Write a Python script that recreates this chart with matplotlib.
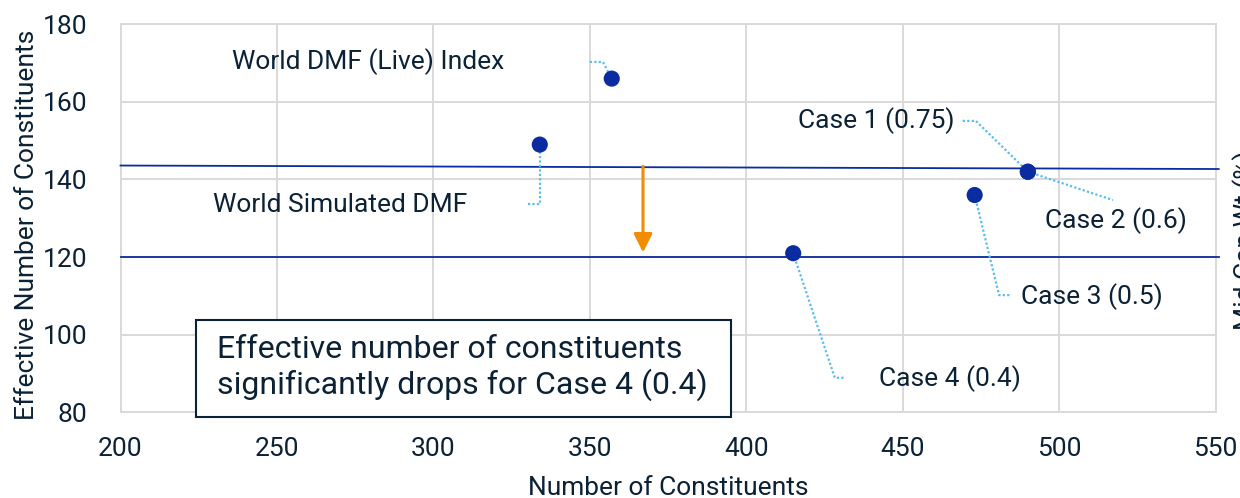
import matplotlib

matplotlib.use("Agg")
import matplotlib.pyplot as plt
from matplotlib.patches import Rectangle

plt.rcParams["font.family"] = ["Roboto", "DejaVu Sans"]

# data
labels = ["World DMF (Live) Index", "World Simulated DMF", "Case 1 (0.75)",
          "Case 2 (0.6)", "Case 3 (0.5)", "Case 4 (0.4)"]
n_constituents = [357, 334, 490, 490, 473, 415]
eff_constituents = [166, 149, 142, 142, 136, 121]

# reference lines (left / right level)
upper_line = [143.6, 142.7]
lower_line = [120.0, 120.0]
line_x = [200, 551]
arrow_x = 367

# label layout: text anchor, alignment, leader elbow points (data coords)
label_pos = [(322.6, 170.3), (310.7, 133.4), (466.7, 155.1),
             (495.5, 129.3), (487.8, 109.7), (442.4, 88.6)]
label_ha = ["right", "right", "right", "left", "left", "left"]
leader_pts = [
    [(350.0, 170.3), (354.2, 170.3)],
    [(330.2, 133.7), (334.0, 133.7)],
    [(469.2, 155.1), (473.4, 155.1)],
    [(517.2, 134.7)],
    [(480.8, 110.2), (484.6, 110.2)],
    [(428.3, 88.9), (431.5, 88.9)],
]

TEXT = "#0b2136"
GRID = "#d9d9d9"
NAVY = "#0a2ca0"
LEADER = "#5bbcf0"
ORANGE = "#f28c00"

fig = plt.figure(figsize=(12.4, 4.98), dpi=100)
ax = fig.add_axes([0.0972, 0.1721, 0.8831, 0.7791])

ax.set_xlim(200, 550)
ax.set_ylim(80, 180)
ax.set_xticks(range(200, 551, 50))
ax.set_yticks(range(80, 181, 20))
ax.grid(True, color=GRID, lw=1.4, zorder=0)
ax.set_axisbelow(True)
for sp in ax.spines.values():
    sp.set_color(GRID)
    sp.set_linewidth(1.4)
ax.tick_params(length=0, labelsize=19, colors=TEXT)
ax.tick_params(axis="x", pad=18)
ax.tick_params(axis="y", pad=24)
ax.set_xlabel("Number of Constituents", fontsize=19, color=TEXT)
ax.set_ylabel("Effective Number of Constituents", fontsize=19, color=TEXT)
ax.xaxis.set_label_coords(0.5, -0.163)
ax.yaxis.set_label_coords(-0.0854, 0.483)
ax.yaxis.label.set_va("center")

ax.plot(line_x, upper_line, color=NAVY, lw=1.3, clip_on=False, zorder=3)
ax.plot(line_x, lower_line, color=NAVY, lw=1.3, clip_on=False, zorder=3)

ax.annotate("", xy=(arrow_x, lower_line[0] + 1.2), xytext=(arrow_x, 143.4),
            arrowprops=dict(arrowstyle="-|>", color=ORANGE, lw=2.2,
                            mutation_scale=28, shrinkA=0, shrinkB=0), zorder=4)

for i, lab in enumerate(labels):
    pts = leader_pts[i]
    if label_ha[i] == "right":
        path = pts + [(n_constituents[i], eff_constituents[i])]
    else:
        path = [(n_constituents[i], eff_constituents[i])] + pts
    ax.plot([p[0] for p in path], [p[1] for p in path], color=LEADER,
            lw=1.6, ls=(0, (1, 1)), zorder=5)
    ax.text(label_pos[i][0], label_pos[i][1], lab, ha=label_ha[i], va="center",
            fontsize=19, color=TEXT, zorder=6)

ax.scatter(n_constituents, eff_constituents, s=135, color=NAVY, zorder=7,
           edgecolors="none")

ax.add_patch(Rectangle((0.0693, -0.0113), 0.4879, 0.2492, transform=ax.transAxes,
                       fill=True, facecolor="white", edgecolor=TEXT, lw=1.5,
                       clip_on=False, zorder=8))
ax.text(0.0878, 0.114, "Effective number of constituents\nsignificantly drops for Case 4 (0.4)",
        transform=ax.transAxes, ha="left", va="center", fontsize=23, color=TEXT,
        linespacing=1.15, zorder=9)

fig.text(1232 / 1240, 1 - 240 / 498, "Mid Cap Wt (%)", rotation=90, ha="left",
         va="center", fontsize=19, color=TEXT)

fig.savefig("out.png", dpi=100)
